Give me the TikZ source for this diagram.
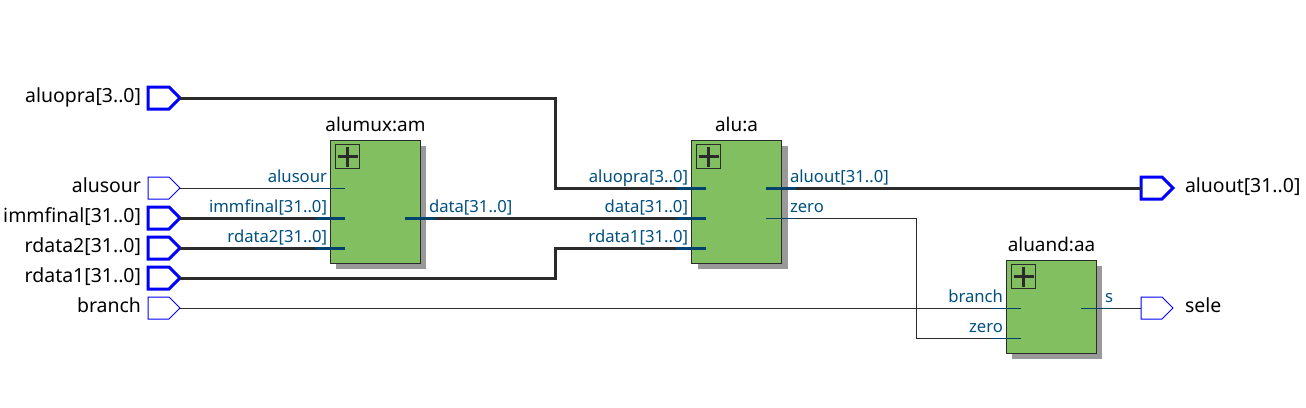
\documentclass[tikz,border=0pt]{standalone}
\usepackage{fontspec}
\setmainfont{Noto Sans}
\usetikzlibrary{shapes.symbols}
\definecolor{wirec}{HTML}{2B2B2B}
\definecolor{stubc}{HTML}{00426E}
\definecolor{labelc}{HTML}{00507F}
\definecolor{blockc}{HTML}{82BF60}
\definecolor{shadowc}{HTML}{999999}
\definecolor{pinc}{HTML}{0000FF}
\tikzset{
  x=0.75pt,y=-0.75pt,
  thinwire/.style={draw=wirec,line width=0.75pt},
  thickwire/.style={draw=wirec,line width=2.25pt},
  thinstub/.style={draw=stubc,line width=0.75pt},
  thickstub/.style={draw=stubc,line width=2.25pt},
  pinbase/.style={shape=signal,signal to=east,signal pointer angle=90,draw=pinc,fill=white,
    minimum width=24pt,minimum height=16.5pt,inner sep=0pt,outer sep=0pt},
  thinpin/.style={pinbase,line width=0.75pt},
  thickpin/.style={pinbase,line width=2.25pt},
  block/.style={draw=wirec,fill=blockc,line width=0.75pt,minimum width=67.5pt,inner sep=0pt,outer sep=0pt,anchor=north west},
  blockshadow/.style={fill=shadowc,draw=none,minimum width=67.5pt,inner sep=0pt,outer sep=0pt,anchor=north west},
  plusbox/.style={draw=wirec,fill=blockc,line width=0.75pt,minimum width=18pt,minimum height=18pt,inner sep=0pt,outer sep=0pt,anchor=north west},
  plusbar/.style={draw=wirec,line width=2.25pt},
  pinlabel/.style={font=\fontsize{14.6}{16}\selectfont,text=black,inner sep=0pt,outer sep=0pt},
  blocklabel/.style={font=\fontsize{14.2}{16}\selectfont,text=black,inner sep=0pt,outer sep=0pt,anchor=base},
  portlabel/.style={font=\fontsize{12.5}{15}\selectfont,text=labelc,inner sep=0pt,outer sep=0pt},
}
\newcommand{\plusmark}[3]{%
  \node[plusbox] (#1) at (#2,#3) {};
  \draw[plusbar] (#1.west) ++(2,0) -- ++(20,0);
  \draw[plusbar] (#1.north) ++(0,2) -- ++(0,20);
}
\begin{document}
\begin{tikzpicture}
\useasboundingbox (0,0) rectangle (1306,407);
\fill[white] (0,0) rectangle (1306,407);

% block shadows and blocks
\node[blockshadow,minimum height=92.25pt] (amS) at (336,146) {};
\node[blockshadow,minimum height=92.25pt] (aS) at (697.5,146) {};
\node[blockshadow,minimum height=69.75pt] (aaS) at (1012,266) {};
\node[block,minimum height=92.25pt] (am) at (330.5,140.5) {};
\node[block,minimum height=92.25pt] (a) at (691.5,140.5) {};
\node[block,minimum height=69.75pt] (aa) at (1006.5,260.5) {};
\plusmark{amP}{335.5}{144.5}
\plusmark{aP}{696.5}{144.5}
\plusmark{aaP}{1011.5}{264.5}

% pins
\node[thickpin] (pa) at (158.5,98) {};
\node[thinpin] (pb) at (158.5,188) {};
\node[thickpin] (pc) at (158.5,218) {};
\node[thickpin] (pd) at (158.5,248) {};
\node[thickpin] (pe) at (158.5,278) {};
\node[thinpin] (pf) at (158.5,308) {};
\node[thickpin] (pg) at (1151.5,188) {};
\node[thinpin] (ph) at (1151.5,308) {};

% port ends
\coordinate (amI1a) at (315,188); \coordinate (amI1b) at (345,188);
\coordinate (amI2a) at (315,218); \coordinate (amI2b) at (345,218);
\coordinate (amI3a) at (315,248); \coordinate (amI3b) at (345,248);
\coordinate (amOa) at (405,218);  \coordinate (amOb) at (435,218);
\coordinate (aI1a) at (676,188);  \coordinate (aI1b) at (706,188);
\coordinate (aI2a) at (676,218);  \coordinate (aI2b) at (706,218);
\coordinate (aI3a) at (676,248);  \coordinate (aI3b) at (706,248);
\coordinate (aO1a) at (766,188);  \coordinate (aO1b) at (796,188);
\coordinate (aO2a) at (766,218);  \coordinate (aO2b) at (796,218);
\coordinate (aaI1a) at (991,308); \coordinate (aaI1b) at (1021,308);
\coordinate (aaI2a) at (991,338); \coordinate (aaI2b) at (1021,338);
\coordinate (aaOa) at (1081,308); \coordinate (aaOb) at (1111,308);
\coordinate (bendA) at (555,98);
\coordinate (bendB) at (555,188);
\coordinate (bendC) at (555,278);
\coordinate (bendD) at (555,248);
\coordinate (bendE) at (916.5,218);
\coordinate (bendF) at (916.5,338);

% wires
\draw[thickwire] (pa.east) -- (bendA) -- (bendB) -- (aI1a);
\draw[thinwire] (pb.east) -- (amI1a);
\draw[thickwire] (pc.east) -- (amI2a);
\draw[thickwire] (pd.east) -- (amI3a);
\draw[thickwire] (pe.east) -- (bendC) -- (bendD) -- (aI3a);
\draw[thinwire] (pf.east) -- (aaI1a);
\draw[thickwire] (amOb) -- (aI2a);
\draw[thickwire] (aO1b) -- (pg.west);
\draw[thinwire] (aO2b) -- (bendE) -- (bendF) -- (aaI2a);
\draw[thinwire] (aaOb) -- (ph.west);

% port stubs
\draw[thinstub] (amI1a) -- (amI1b);
\draw[thickstub] (amI2a) -- (amI2b);
\draw[thickstub] (amI3a) -- (amI3b);
\draw[thickstub] (amOa) -- (amOb);
\draw[thickstub] (aI1a) -- (aI1b);
\draw[thickstub] (aI2a) -- (aI2b);
\draw[thickstub] (aI3a) -- (aI3b);
\draw[thickstub] (aO1a) -- (aO1b);
\draw[thinstub] (aO2a) -- (aO2b);
\draw[thinstub] (aaI1a) -- (aaI1b);
\draw[thinstub] (aaI2a) -- (aaI2b);
\draw[thinstub] (aaOa) -- (aaOb);

% pin labels
\node[pinlabel,anchor=base east] (la) at (141,102) {aluopra[3..0]};
\node[pinlabel,anchor=base east] (lb) at (141,192) {alusour};
\node[pinlabel,anchor=base east] (lc) at (141,222) {immfinal[31..0]};
\node[pinlabel,anchor=base east] (ld) at (141,252) {rdata2[31..0]};
\node[pinlabel,anchor=base east] (le) at (141,282) {rdata1[31..0]};
\node[pinlabel,anchor=base east] (lf) at (141,312) {branch};
\node[pinlabel,anchor=base west] (lg) at (1185,192) {aluout[31..0]};
\node[pinlabel,anchor=base west] (lh) at (1185,312) {sele};

% block titles
\node[blocklabel] (tam) at (375.5,131) {alumux:am};
\node[blocklabel] (ta) at (736.5,131) {alu:a};
\node[blocklabel] (taa) at (1051.5,251) {aluand:aa};

% port labels
\node[portlabel,anchor=base east] (q1) at (327,182) {alusour};
\node[portlabel,anchor=base east] (q2) at (327,212) {immfinal[31..0]};
\node[portlabel,anchor=base east] (q3) at (327,242) {rdata2[31..0]};
\node[portlabel,anchor=base west] (q4) at (429,212) {data[31..0]};
\node[portlabel,anchor=base east] (q5) at (688,182) {aluopra[3..0]};
\node[portlabel,anchor=base east] (q6) at (688,212) {data[31..0]};
\node[portlabel,anchor=base east] (q7) at (688,242) {rdata1[31..0]};
\node[portlabel,anchor=base west] (q8) at (790,182) {aluout[31..0]};
\node[portlabel,anchor=base west] (q9) at (790,212) {zero};
\node[portlabel,anchor=base east] (q10) at (1003,302) {branch};
\node[portlabel,anchor=base east] (q11) at (1003,332) {zero};
\node[portlabel,anchor=base west] (q12) at (1105,302) {s};
\end{tikzpicture}
\end{document}
